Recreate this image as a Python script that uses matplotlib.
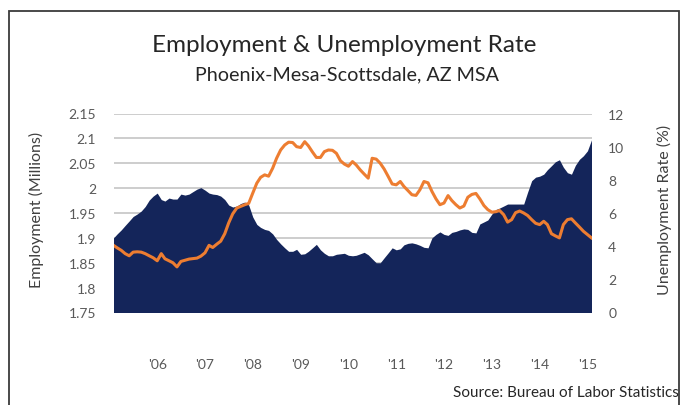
import pandas as pd
import matplotlib.pyplot as plt
from matplotlib.patches import Rectangle

plt.rcParams["font.family"] = ["Lato", "DejaVu Sans"]

# ==============================
# DATA (monthly, Feb 2005 - Feb 2015)
# ==============================
months = pd.date_range("2005-02-01", periods=121, freq="MS")

employment_millions = [
    1.900, 1.908, 1.916, 1.925, 1.934, 1.943, 1.948, 1.954, 1.963, 1.976,
    1.984, 1.990, 1.977, 1.974, 1.980, 1.978, 1.978, 1.988, 1.986, 1.988,
    1.993, 1.998, 2.001, 1.996, 1.990, 1.988, 1.987, 1.984, 1.977, 1.966,
    1.962, 1.964, 1.969, 1.972, 1.966, 1.942, 1.927, 1.921, 1.917, 1.915,
    1.908, 1.897, 1.888, 1.880, 1.873, 1.873, 1.877, 1.867, 1.868, 1.873,
    1.880, 1.887, 1.876, 1.869, 1.864, 1.864, 1.867, 1.868, 1.869, 1.865,
    1.864, 1.865, 1.868, 1.871, 1.866, 1.858, 1.850, 1.850, 1.860, 1.870,
    1.880, 1.876, 1.878, 1.886, 1.889, 1.890, 1.888, 1.885, 1.881, 1.880,
    1.900, 1.907, 1.912, 1.907, 1.905, 1.911, 1.913, 1.916, 1.918, 1.917,
    1.911, 1.910, 1.928, 1.932, 1.936, 1.948, 1.957, 1.960, 1.964, 1.968,
    1.968, 1.968, 1.968, 1.968, 1.992, 2.015, 2.022, 2.024, 2.028, 2.037,
    2.045, 2.053, 2.057, 2.042, 2.031, 2.028, 2.046, 2.058, 2.065, 2.075,
    2.097,
]

unemployment_rate = [
    4.05, 3.90, 3.75, 3.55, 3.42, 3.64, 3.66, 3.64, 3.55, 3.42,
    3.30, 3.12, 3.55, 3.24, 3.12, 3.00, 2.75, 3.08, 3.15, 3.22,
    3.25, 3.28, 3.40, 3.60, 4.05, 3.92, 4.12, 4.30, 4.75, 5.40,
    5.95, 6.30, 6.40, 6.50, 6.58, 7.20, 7.80, 8.15, 8.30, 8.22,
    8.70, 9.30, 9.80, 10.10, 10.27, 10.25, 10.00, 9.95, 10.30, 10.05,
    9.68, 9.35, 9.35, 9.70, 9.80, 9.78, 9.60, 9.15, 8.95, 8.82,
    9.10, 8.90, 8.60, 8.35, 8.10, 9.30, 9.25, 9.00, 8.65, 8.20,
    7.75, 7.70, 7.90, 7.60, 7.35, 7.10, 7.06, 7.40, 7.90, 7.82,
    7.30, 6.85, 6.50, 6.60, 7.05, 6.75, 6.50, 6.30, 6.42, 6.95,
    7.12, 7.18, 6.85, 6.45, 6.20, 6.05, 6.08, 6.15, 5.90, 5.45,
    5.60, 6.02, 6.12, 6.00, 5.85, 5.60, 5.38, 5.30, 5.50, 5.30,
    4.75, 4.62, 4.50, 5.30, 5.60, 5.65, 5.40, 5.15, 4.90, 4.70,
    4.50,
]

tick_years = list(range(2006, 2016))
tick_labels = ["'%02d" % (y % 100) for y in tick_years]

emp_ticks = [1.75, 1.8, 1.85, 1.9, 1.95, 2.0, 2.05, 2.1, 2.15]
emp_tick_labels = ["1.75", "1.8", "1.85", "1.9", "1.95", "2", "2.05", "2.1", "2.15"]
rate_ticks = [0, 2, 4, 6, 8, 10, 12]

NAVY = "#14255a"
ORANGE = "#ed7d31"
GRID = "#c9c9c9"
TEXT = "#595959"

# ==============================
# FIGURE
# ==============================
W, H = 687, 406
fig = plt.figure(figsize=(W / 100, H / 100), dpi=100)
ax = fig.add_axes([113.5 / W, 1 - 313.5 / H, 478 / W, 199 / H])

ax.fill_between(months, 1.75, employment_millions, color=NAVY, lw=0, zorder=2)
ax.set_ylim(1.75, 2.15)
ax.set_xlim(months[0], months[-1])
ax.set_yticks(emp_ticks)
ax.set_yticklabels(emp_tick_labels)
ax.grid(axis="y", color=GRID, lw=1.3, zorder=0)
ax.set_axisbelow(True)

ax.set_xticks([pd.Timestamp(f"{y}-01-01") for y in tick_years])
ax.set_xticklabels(tick_labels)

for s in ax.spines.values():
    s.set_visible(False)
ax.tick_params(axis="both", length=0, colors=TEXT, labelsize=10)
ax.tick_params(axis="y", pad=12.5)
ax.tick_params(axis="x", pad=33)

ax.set_ylabel("Employment (Millions)", color="#404040", fontsize=11.5)
ax.yaxis.set_label_coords(-0.145, 0.52)

# unemployment rate on secondary axis
ax2 = ax.twinx()
ax2.plot(months, unemployment_rate, color=ORANGE, lw=2.2, zorder=3)
ax2.set_ylim(0, 12)
ax2.set_yticks(rate_ticks)
for s in ax2.spines.values():
    s.set_visible(False)
ax2.tick_params(axis="y", length=0, colors=TEXT, labelsize=10, pad=12)
ax2.set_ylabel("Unemployment Rate (%)", color="#404040", fontsize=11.5,
               rotation=90)
ax2.yaxis.set_label_coords(1.137, 0.52)

# ==============================
# TITLES, SOURCE, FRAME
# ==============================
fig.text(344 / W, 1 - 46 / H, "Employment & Unemployment Rate",
         ha="center", va="center", fontsize=17.5, color="#262626")
fig.text(347 / W, 1 - 75 / H, "Phoenix-Mesa-Scottsdale, AZ MSA",
         ha="center", va="center", fontsize=14.2, color="#262626")
fig.text(679 / W, 1 - 393 / H, "Source: Bureau of Labor Statistics",
         ha="right", va="center", fontsize=11, color="#262626")

fig.add_artist(Rectangle((9 / W, -0.05), 670 / W, 1.05 - 12 / H,
                         transform=fig.transFigure, fill=False,
                         edgecolor="#3a3a3a", lw=1.3))

fig.savefig("out.png", dpi=100)
